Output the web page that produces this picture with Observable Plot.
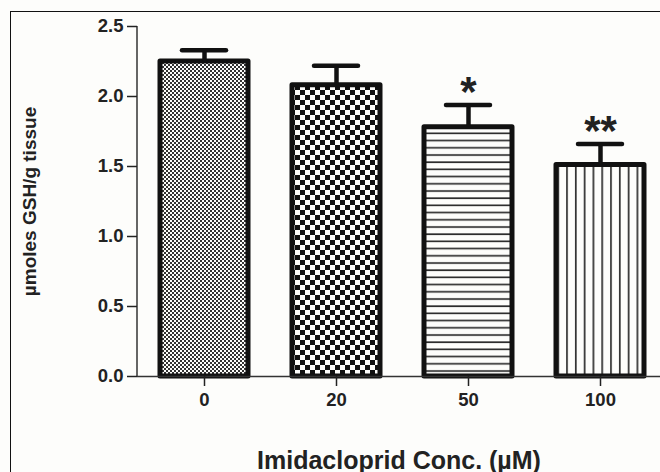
<!DOCTYPE html>
<html><head><meta charset="utf-8">
<script src="https://cdn.jsdelivr.net/npm/d3@7"></script>
<script src="https://cdn.jsdelivr.net/npm/@observablehq/plot@0.6"></script>
<style>
html,body{margin:0;padding:0;background:#fdfdfb;overflow:hidden;}
#wrap{position:relative;width:660px;height:472px;}
#border{position:absolute;left:10px;top:11px;width:650px;height:461px;box-sizing:border-box;border-left:1.5px solid #111;border-top:1.5px solid #111;}
#chart{position:absolute;left:0;top:0;}
</style></head><body>
<div id="wrap"><div id="border"></div><div id="chart"></div></div>
<script>
const concentrations = ["0", "20", "50", "100"];
const meanGSH = [2.25, 2.08, 1.78, 1.51];
const semGSH = [0.08, 0.14, 0.16, 0.15];
const significance = ["", "", "*", "**"];
const yTicks = [0, 0.5, 1.0, 1.5, 2.0, 2.5];
const xTitle = "Imidacloprid Conc. (µM)";
const yTitle = "µmoles GSH/g tissue";

const patternIds = ["pat-fine-check", "pat-coarse-check", "pat-hlines", "pat-vlines"];
const rows = concentrations.map((c, i) => ({
  conc: c, mean: meanGSH[i], upper: meanGSH[i] + semGSH[i], sig: significance[i],
  pattern: `url(#${patternIds[i]})`
}));

const yAxisLine = (index, scales, values, dims) => {
  const y0 = scales.y(yTicks[0]), y1 = scales.y(yTicks[yTicks.length - 1]);
  return d3.create("svg:line")
    .attr("x1", dims.marginLeft).attr("x2", dims.marginLeft)
    .attr("y1", y0).attr("y2", y1)
    .attr("stroke", "#333").attr("stroke-width", 1.5).node();
};

const svg = Plot.plot({
  width: 660, height: 472,
  marginLeft: 137, marginRight: 0, marginTop: 26, marginBottom: 96,
  style: {background: "transparent", fontFamily: "'Liberation Sans', Arial, sans-serif", fontWeight: "bold", color: "#222", fontSize: "18px"},
  x: {domain: concentrations, range: [137, 666], paddingInner: 0.335, paddingOuter: 0.166, label: null},
  y: {domain: [0, 2.5], label: null},
  color: {type: "identity"},
  marks: [
    Plot.barY(rows, {x: "conc", y: "mean", fill: "pattern", stroke: "#111", strokeWidth: 5, strokeLinejoin: "round"}),
    Plot.ruleX(rows, {x: "conc", y1: "mean", y2: "upper", stroke: "#111", strokeWidth: 4.5}),
    Plot.tickY(rows, {x: "conc", y: "upper", stroke: "#111", strokeWidth: 4.5, strokeLinecap: "round", insetLeft: 22, insetRight: 22}),
    Plot.text(rows, {x: "conc", y: "upper", text: "sig", fontSize: 42, lineAnchor: "bottom", dy: 1, fill: "#222"}),
    Plot.ruleY([0], {stroke: "#333", strokeWidth: 1.5}),
    yAxisLine,
    Plot.axisY({ticks: yTicks, tickFormat: d3.format(".1f"), tickSize: 10, tickPadding: 4, label: null, fontSize: 18.5, color: "#222", strokeWidth: 1.5}),
    Plot.axisX({tickSize: 10, tickPadding: 6, label: null, fontSize: 18.5, color: "#222", strokeWidth: 1.5}),
    Plot.text([yTitle], {frameAnchor: "left", textAnchor: "middle", lineAnchor: "middle", rotate: -90, dx: -108, fontSize: 19, fill: "#222"}),
    Plot.text([xTitle], {frameAnchor: "bottom", lineAnchor: "bottom", dy: 92, fontSize: 25, fill: "#222"})
  ]
});

const defs = d3.select(svg).insert("defs", ":first-child");
function pat(id, w, h, draw) {
  const p = defs.append("pattern").attr("id", id).attr("patternUnits", "userSpaceOnUse")
    .attr("width", w).attr("height", h);
  p.append("rect").attr("width", w).attr("height", h).attr("fill", "#fdfdfb");
  draw(p);
}
pat(patternIds[0], 4, 4, p => {
  p.append("rect").attr("x", 0).attr("y", 0).attr("width", 2).attr("height", 2).attr("fill", "#333");
  p.append("rect").attr("x", 2).attr("y", 2).attr("width", 2).attr("height", 2).attr("fill", "#333");
});
pat(patternIds[1], 10, 10, p => {
  p.append("rect").attr("x", 0).attr("y", 0).attr("width", 5).attr("height", 5).attr("fill", "#111");
  p.append("rect").attr("x", 5).attr("y", 5).attr("width", 5).attr("height", 5).attr("fill", "#111");
});
pat(patternIds[2], 10, 7.2, p => {
  p.append("rect").attr("x", 0).attr("y", 3).attr("width", 10).attr("height", 1.6).attr("fill", "#222");
});
pat(patternIds[3], 8.8, 10, p => {
  p.append("rect").attr("x", 3).attr("y", 0).attr("width", 1.6).attr("height", 10).attr("fill", "#222");
});

document.getElementById("chart").appendChild(svg);
</script>
</body></html>
